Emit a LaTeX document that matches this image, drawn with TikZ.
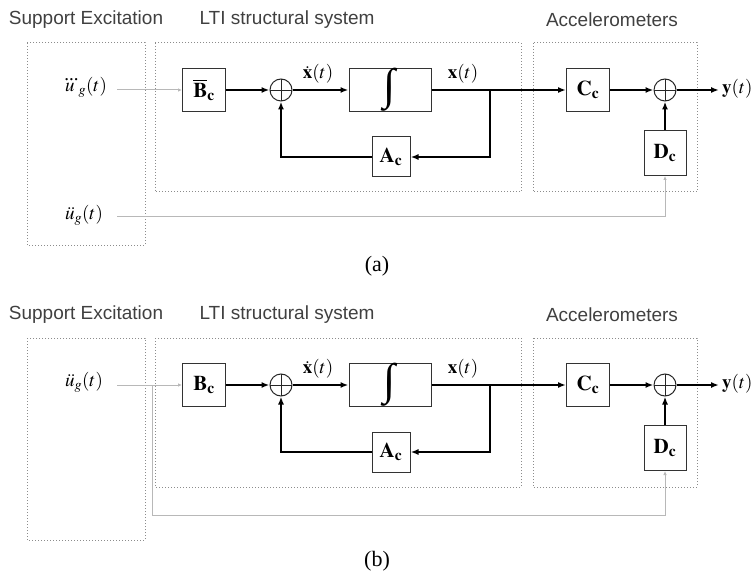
\documentclass[tikz,border=0pt]{standalone}
\usepackage{amsmath}
\usepackage{mathptmx}
\usepackage{fontspec}
\setmainfont{Liberation Serif}
\setsansfont{Liberation Sans}
\usetikzlibrary{arrows.meta}

\tikzset{
  blk/.style={draw=black!80, line width=1pt, minimum width=43pt, minimum height=43pt,
              inner sep=0pt, fill=white, font=\fontsize{21}{24}\selectfont},
  sumnode/.style={circle, draw=black!85, line width=1pt, minimum size=22pt, inner sep=0pt,
              path picture={\draw[line width=0.8pt]
                (path picture bounding box.north) -- (path picture bounding box.south)
                (path picture bounding box.west) -- (path picture bounding box.east);}},
  group/.style={draw=black!45, dotted, line width=1pt},
  sig/.style={line width=1.6pt, -{Latex[length=8pt,width=6pt]}},
  inp/.style={draw=black!28, line width=1pt, -{Latex[length=4pt,width=3.5pt]}},
  inpline/.style={draw=black!28, line width=1pt},
  ttl/.style={font=\sffamily\fontsize{19}{22}\selectfont, text=black!75},
  lbl/.style={font=\fontsize{19}{22}\selectfont},
  captext/.style={font=\fontsize{22}{24}\selectfont},
  intg/.style={font=\fontsize{44}{46}\selectfont},
}
% upright integral sign taken from the text font
\newcommand{\integralsign}{\char"222B}

\begin{document}
\begin{tikzpicture}[x=1pt, y=-1pt]
\useasboundingbox (0,0) rectangle (754,577);

% ---------------- panel (a) ----------------
\node[ttl] (a-t1) at (86,20) {Support Excitation};
\node[ttl] (a-t2) at (287,20) {LTI structural system};
\node[ttl] (a-t3) at (612,20) {Accelerometers};

\draw[group] (27,43) rectangle (145,245);
\draw[group] (155,43) rectangle (521,192);
\draw[group] (533,43) rectangle (697,192);

\node[lbl] (a-u) at (84,87) {$\dddot{u}_g(t)$};
\coordinate (a-ustart) at (117,90);
\node[blk] (a-B) at (204,90) {$\overline{\mathbf{B}}_{\mathbf{c}}$};
\node[sumnode] (a-s1) at (281,90) {};
\node[blk, minimum width=82pt, intg] (a-int) at (390,90) {\integralsign};
\node[blk, minimum width=38pt, minimum height=40pt] (a-A) at (391,157) {$\mathbf{A}_{\mathbf{c}}$};
\node[blk] (a-C) at (588,90) {$\mathbf{C}_{\mathbf{c}}$};
\node[sumnode] (a-s2) at (665,90) {};
\node[blk, minimum width=42pt, minimum height=45pt] (a-D) at (665,153) {$\mathbf{D}_{\mathbf{c}}$};
\coordinate (a-br) at (490,90);
\coordinate (a-yend) at (719,90);
\node[lbl, anchor=west, inner sep=1pt] (a-y) at (721,89) {$\mathbf{y}(t)$};
\node[lbl] (a-dx) at (318,74) {$\dot{\mathbf{x}}(t)$};
\node[lbl] (a-x) at (463,74) {$\mathbf{x}(t)$};

\node[lbl] (a-udd) at (84,215) {$\ddot{u}_g(t)$};
\coordinate (a-uddstart) at (117,217);

\draw[inp] (a-ustart) -- (a-B.west);
\draw[sig] (a-B.east) -- (a-s1.west);
\draw[sig] (a-s1.east) -- (a-int.west);
\draw[sig] (a-int.east) -- (a-C.west);
\draw[sig] (a-br) |- (a-A.east);
\draw[sig] (a-A.west) -| (a-s1.south);
\draw[sig] (a-C.east) -- (a-s2.west);
\draw[sig] (a-s2.east) -- (a-yend);
\draw[sig] (a-D.north) -- (a-s2.south);
\draw[inp] (a-uddstart) -| (a-D.south);

\node[captext] (a-cap) at (377,266) {(a)};

% ---------------- panel (b) ----------------
\begin{scope}[yshift=-295pt]
\node[ttl] (b-t1) at (86,20) {Support Excitation};
\node[ttl] (b-t2) at (287,20) {LTI structural system};
\node[ttl] (b-t3) at (612,20) {Accelerometers};

\draw[group] (27,43) rectangle (145,245);
\draw[group] (155,43) rectangle (521,192);
\draw[group] (533,43) rectangle (697,192);

\node[lbl] (b-u) at (84,87) {$\ddot{u}_g(t)$};
\coordinate (b-ustart) at (117,90);
\coordinate (b-tap) at (152,90);
\coordinate (b-low) at (152,220);
\node[blk] (b-B) at (204,90) {$\mathbf{B}_{\mathbf{c}}$};
\node[sumnode] (b-s1) at (281,90) {};
\node[blk, minimum width=82pt, intg] (b-int) at (390,90) {\integralsign};
\node[blk, minimum width=38pt, minimum height=40pt] (b-A) at (391,157) {$\mathbf{A}_{\mathbf{c}}$};
\node[blk] (b-C) at (588,90) {$\mathbf{C}_{\mathbf{c}}$};
\node[sumnode] (b-s2) at (665,90) {};
\node[blk, minimum width=42pt, minimum height=45pt] (b-D) at (665,153) {$\mathbf{D}_{\mathbf{c}}$};
\coordinate (b-br) at (490,90);
\coordinate (b-yend) at (719,90);
\node[lbl, anchor=west, inner sep=1pt] (b-y) at (721,89) {$\mathbf{y}(t)$};
\node[lbl] (b-dx) at (318,74) {$\dot{\mathbf{x}}(t)$};
\node[lbl] (b-x) at (463,74) {$\mathbf{x}(t)$};

\draw[inp] (b-ustart) -- (b-B.west);
\draw[inpline] (b-tap) -- (b-low);
\draw[inp] (b-low) -| (b-D.south);
\draw[sig] (b-B.east) -- (b-s1.west);
\draw[sig] (b-s1.east) -- (b-int.west);
\draw[sig] (b-int.east) -- (b-C.west);
\draw[sig] (b-br) |- (b-A.east);
\draw[sig] (b-A.west) -| (b-s1.south);
\draw[sig] (b-C.east) -- (b-s2.west);
\draw[sig] (b-s2.east) -- (b-yend);
\draw[sig] (b-D.north) -- (b-s2.south);

\node[captext] (b-cap) at (377,266) {(b)};
\end{scope}
\end{tikzpicture}
\end{document}
